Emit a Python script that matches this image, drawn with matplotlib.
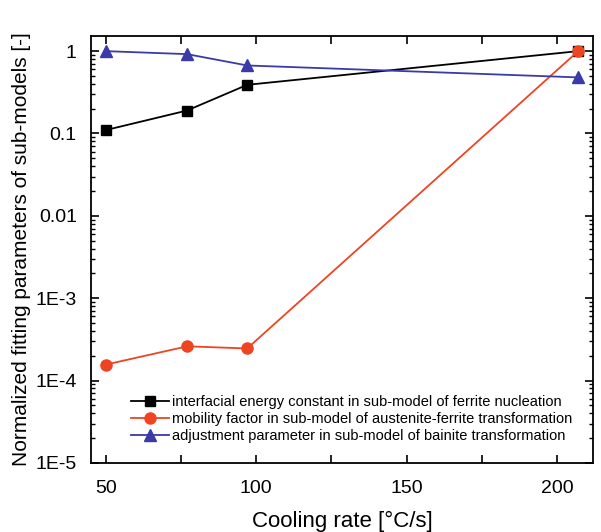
import numpy as np
import matplotlib
matplotlib.use("Agg")
import matplotlib.pyplot as plt
from matplotlib.ticker import FixedLocator, FixedFormatter, LogLocator, NullFormatter

plt.rcParams['font.family'] = ['Liberation Sans', 'DejaVu Sans']

# data
cooling_rate = [50, 77, 97, 207]
interfacial = [0.11, 0.19, 0.39, 1.0]
mobility = [1.56e-4, 2.6e-4, 2.45e-4, 1.0]
adjustment = [1.0, 0.92, 0.67, 0.48]

labels = ["interfacial energy constant in sub-model of ferrite nucleation",
          "mobility factor in sub-model of austenite-ferrite transformation",
          "adjustment parameter in sub-model of bainite transformation"]

y_ticks = [1e-5, 1e-4, 1e-3, 1e-2, 1e-1, 1]
y_ticklabels = ["1E-5", "1E-4", "1E-3", "0.01", "0.1", "1"]

fig = plt.figure(figsize=(6.01, 5.32), dpi=100)
ax = fig.add_axes([0.151, 0.13, 0.836, 0.802])

ax.plot(cooling_rate, interfacial, color='black', marker='s', ms=7, lw=1.3, label=labels[0])
ax.plot(cooling_rate, mobility, color='#ee4422', marker='o', ms=8, lw=1.3, label=labels[1])
ax.plot(cooling_rate, adjustment, color='#3a3aa8', marker='^', ms=8, lw=1.3, label=labels[2])

ax.set_yscale('log')
ax.set_xlim(45, 212)
ax.set_ylim(1e-5, 1.52)

ax.xaxis.set_major_locator(FixedLocator([50, 100, 150, 200]))
ax.xaxis.set_minor_locator(FixedLocator([75, 125, 175]))
ax.yaxis.set_major_locator(FixedLocator(y_ticks))
ax.yaxis.set_major_formatter(FixedFormatter(y_ticklabels))
ax.yaxis.set_minor_locator(LogLocator(base=10, subs=np.arange(2, 10)))
ax.yaxis.set_minor_formatter(NullFormatter())

ax.tick_params(which='both', direction='in', top=True, right=True, labelsize=14)
ax.tick_params(which='major', length=6, width=1.2)
ax.tick_params(which='minor', length=3, width=1)
ax.tick_params(axis='x', which='minor', length=6, width=1.2)
ax.tick_params(axis='x', pad=12)
ax.tick_params(axis='y', pad=10)
for s in ax.spines.values():
    s.set_linewidth(1.3)

ax.set_xlabel("Cooling rate [°C/s]", fontsize=16, labelpad=10)
ax.set_ylabel("Normalized fitting parameters of sub-models [-]", fontsize=15, labelpad=3)

ax.legend(loc='lower right', bbox_to_anchor=(0.985, 0.015), frameon=False, fontsize=10.5,
          handlelength=2.6, handletextpad=0.2, labelspacing=0.2)

fig.savefig("out.png", dpi=100)
